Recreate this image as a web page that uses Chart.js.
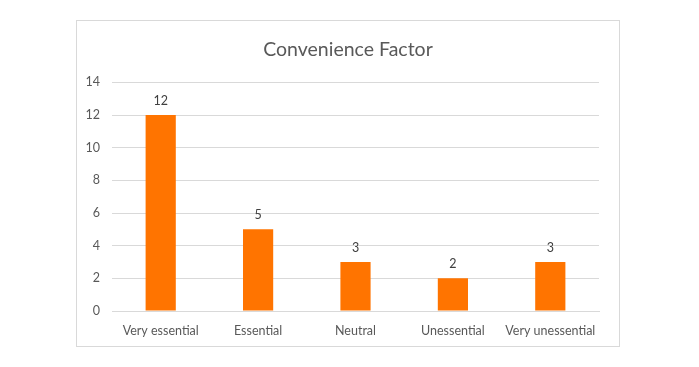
<!DOCTYPE html>
<html><head><meta charset="utf-8">
<script src="https://cdn.jsdelivr.net/npm/chart.js@4"></script>
<style>
html,body{margin:0;padding:0;background:#fff;width:699px;height:367px;overflow:hidden;}
#box{position:absolute;left:76px;top:20px;width:542px;height:325px;border:1px solid #d9d9d9;background:#fff;}
canvas{display:block;}
</style></head><body>
<div id="box"><canvas id="c" width="542" height="325"></canvas></div>
<script>
const categories = ["Very essential","Essential","Neutral","Unessential","Very unessential"];
const values = [12,5,3,2,3];
const yTicks = [0,2,4,6,8,10,12,14];
const titleText = "Convenience Factor";

const FONT = "Lato, 'Liberation Sans', sans-serif";

const valueLabels = {
  id:'valueLabels',
  afterDatasetsDraw(chart){
    const ctx = chart.ctx;
    const meta = chart.getDatasetMeta(0);
    ctx.save();
    ctx.font = "12.5px " + FONT;
    ctx.fillStyle = "#404040";
    ctx.textAlign = "center";
    ctx.textBaseline = "bottom";
    meta.data.forEach((bar,i)=>{
      ctx.fillText(String(values[i]), bar.x, bar.y - 8);
    });
    ctx.restore();
  }
};

new Chart(document.getElementById('c'), {
  type:'bar',
  data:{labels:categories, datasets:[{data:values, backgroundColor:"#FF7400", borderWidth:0, categoryPercentage:1, barPercentage:0.31}]},
  options:{
    responsive:false, animation:false,
    layout:{padding:0},
    plugins:{
      legend:{display:false}, tooltip:{enabled:false},
      title:{display:true, text:titleText, color:"#595959", font:{family:FONT, size:19.5, weight:'normal'}, padding:{top:17,bottom:21}}
    },
    scales:{
      x:{grid:{display:false}, border:{display:true,color:"#d9d9d9"},
         ticks:{color:"#595959", font:{family:FONT,size:12.5}, padding:4, maxRotation:0, autoSkip:false},
         afterFit(s){s.height=35;}},
      y:{min:0,max:14, afterBuildTicks(s){s.ticks = yTicks.map(v=>({value:v}));},
         grid:{color:"#d9d9d9", drawTicks:false}, border:{display:false},
         ticks:{color:"#595959", font:{family:FONT,size:12.5}, padding:12},
         afterFit(s){s.width=35;}},
      yRight:{type:'linear', position:'right', min:0, max:14, display:true,
         grid:{display:false, drawTicks:false}, border:{display:false},
         ticks:{display:false},
         afterFit(s){s.width=20;}}
    }
  },
  plugins:[valueLabels]
});
</script>
</body></html>
